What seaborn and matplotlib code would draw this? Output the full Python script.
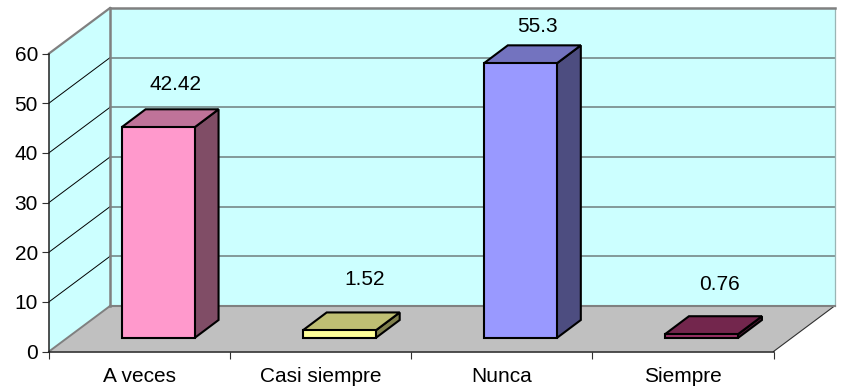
import matplotlib
matplotlib.use("Agg")
import matplotlib.pyplot as plt
from matplotlib.colors import to_rgb
from matplotlib.patches import Polygon
from matplotlib.transforms import ScaledTranslation
import seaborn as sns

categories = ["A veces", "Casi siempre", "Nunca", "Siempre"]
values = [42.42, 1.52, 55.3, 0.76]
bar_colors = ["#FF99CC", "#FFFF99", "#9999FF", "#993366"]
y_ticks = [0, 10, 20, 30, 40, 50, 60]

sns.set_theme(style="white")
plt.rcParams["font.family"] = ["Liberation Sans", "DejaVu Sans"]

W, H = 841, 390
DPI = 100
TEXT_SIZE = 15
fig = plt.figure(figsize=(W / DPI, H / DPI), dpi=DPI, facecolor="white")

# Front plane of the box, in pixels
LEFT, RIGHT, BASE, TOP = 49, 773.5, 351.5, 53.5
ax = fig.add_axes([LEFT / W, 1 - BASE / H, (RIGHT - LEFT) / W, (BASE - TOP) / H])

PX_X = (RIGHT - LEFT) / 4
PX_Y = (BASE - TOP) / 60
X0, X1, Y1 = -0.5, 3.5, 60

# Oblique depth of the box and of the bars, in data units
BOX_DX, BOX_DY = 61 / PX_X, 45.5 / PX_Y
BAR_DX, BAR_DY = 24 / PX_X, 18 / PX_Y
BAR_BOTTOM = 13.5 / PX_Y
BAR_SHIFT_PX = 18.5
BAR_WIDTH = 73 / PX_X


def face(points, color, edge="none", lw=0.0, z=1.0):
    ax.add_patch(Polygon(points, closed=True, facecolor=color, edgecolor=edge,
                         linewidth=lw, clip_on=False, zorder=z, joinstyle="miter"))


def line(xs, ys, color, lw, z=1.5):
    ax.plot(xs, ys, color=color, lw=lw, clip_on=False, zorder=z, solid_capstyle="projecting")


def shade(color, factor):
    return tuple(c * factor for c in to_rgb(color))


# Shift of the bars towards the middle of the floor
shift = ax.transData + ScaledTranslation(BAR_SHIFT_PX / DPI, 0, fig.dpi_scale_trans)
sns.barplot(x=categories, y=values, hue=categories, palette=bar_colors, legend=False,
            width=BAR_WIDTH, bottom=BAR_BOTTOM, edgecolor="black", linewidth=1.5,
            saturation=1, ax=ax, zorder=5, clip_on=False, transform=shift)
ax.set_xlim(X0, X1)
ax.set_ylim(0, Y1)

# Walls and floor
face([(X0, 0), (X0, Y1), (X0 + BOX_DX, Y1 + BOX_DY), (X0 + BOX_DX, BOX_DY)], "#CCFFFF")
face([(X0 + BOX_DX, BOX_DY), (X0 + BOX_DX, Y1 + BOX_DY),
      (X1 + BOX_DX, Y1 + BOX_DY), (X1 + BOX_DX, BOX_DY)], "#CCFFFF")
face([(X0, 0), (X1, 0), (X1 + BOX_DX, BOX_DY), (X0 + BOX_DX, BOX_DY)], "#C0C0C0")

# Gridlines across both walls
for v in y_ticks[1:-1]:
    line([X0 + BOX_DX, X1 + BOX_DX], [v + BOX_DY] * 2, "#6F7F7F", 1.1)
    line([X0, X0 + BOX_DX], [v, v + BOX_DY], "black", 0.7)

# Box outlines
gray = "#808080"
line([X0, X0 + BOX_DX], [Y1, Y1 + BOX_DY], gray, 1.6)
line([X0 + BOX_DX, X1 + BOX_DX], [Y1 + BOX_DY] * 2, gray, 1.8, 1.6)
line([X0 + BOX_DX, X0 + BOX_DX], [BOX_DY, Y1 + BOX_DY], gray, 1.8, 1.6)
line([X0 + BOX_DX, X1 + BOX_DX], [BOX_DY, BOX_DY], gray, 1.5, 1.6)
line([X0, X0 + BOX_DX], [0, BOX_DY], gray, 1.4, 1.6)
line([X1 + BOX_DX, X1 + BOX_DX], [BOX_DY, Y1 + BOX_DY], "#9AB5B5", 0.9)
line([X1, X1 + BOX_DX], [0, BOX_DY], "#303030", 0.8)

# Side and top faces of each bar, taken from the drawn front rectangles
for bar, color in zip(ax.patches[:4], bar_colors):
    bar.set_facecolor(color)
    x0 = bar.get_x() + BAR_SHIFT_PX / PX_X
    x1 = x0 + bar.get_width()
    y0 = bar.get_y()
    y1 = y0 + bar.get_height()
    edge = dict(edge="black", lw=1.5, z=4.5)
    face([(x1, y0), (x1 + BAR_DX, y0 + BAR_DY), (x1 + BAR_DX, y1 + BAR_DY), (x1, y1)],
         shade(color, 0.5), **edge)
    face([(x0, y1), (x1, y1), (x1 + BAR_DX, y1 + BAR_DY), (x0 + BAR_DX, y1 + BAR_DY)],
         shade(color, 0.75), **edge)

# Value labels sit at slightly different heights above each bar
label_offsets = [(5, 25), (13, 33), (5, 19), (6, 32)]
for bar, v, off in zip(ax.patches[:4], values, label_offsets):
    cx = bar.get_x() + bar.get_width() / 2 + BAR_SHIFT_PX / PX_X + BAR_DX / 2
    top = bar.get_y() + bar.get_height() + BAR_DY
    ax.annotate(f"{v:g}", xy=(cx, top), xytext=(off[0] * 0.72, off[1] * 0.72),
                textcoords="offset points", ha="center", va="center",
                fontsize=TEXT_SIZE, color="black", annotation_clip=False, zorder=6)

# Axes: tick marks on category boundaries, labels centred between them
sns.despine(ax=ax, top=True, right=True)
for side in ("left", "bottom"):
    ax.spines[side].set_color("#202020")
    ax.spines[side].set_linewidth(1.1)
    ax.spines[side].set_zorder(3)
ax.set_yticks(y_ticks)
ax.set_yticklabels([str(t) for t in y_ticks], fontsize=TEXT_SIZE, color="black")
ax.set_xticks([-0.5, 0.5, 1.5, 2.5, 3.5])
ax.set_xticklabels([])
ax.set_xticks(range(4), labels=categories, minor=True)
ax.tick_params(axis="x", which="major", length=5, width=0.8, color="#303030", bottom=True)
ax.tick_params(axis="x", which="minor", length=0, pad=11, labelsize=TEXT_SIZE, labelcolor="black")
ax.tick_params(axis="y", length=5, width=0.8, color="#303030", left=True, pad=3)
ax.set_xlabel("")
ax.set_ylabel("")
ax.patch.set_visible(False)
ax.set_axisbelow(False)

fig.savefig("out.png", dpi=DPI, facecolor="white")
